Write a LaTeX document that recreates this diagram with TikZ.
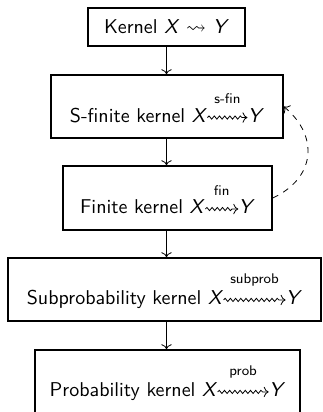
\documentclass[tikz,border=0pt]{standalone}
\usepackage{amsmath}
\usepackage{amssymb}
\usepackage{fontspec}
\usepackage{tikz}
\usetikzlibrary{positioning,arrows.meta,calc,decorations.pathmorphing}

% sans italic letters for the spaces
\newcommand{\spc}[1]{\textit{#1}}
% squiggly kernel arrow with a small label on top: label, length
\newcommand{\kerarrow}[2]{%
  \tikz[baseline=-0.55ex]\draw[kerline] (0pt,0pt) -- node[kerlabel] {#1} (#2,0pt);}

\tikzset{
  kerline/.style={line width=0.4pt,solid,->,decorate,
    decoration={snake,amplitude=0.8pt,segment length=2.6pt,post length=2.2pt}},
  kerlabel/.style={draw=none,minimum width=0pt,minimum height=0pt,above,
    font=\scriptsize\sffamily,inner sep=2pt,yshift=4.5pt},
  kbox/.style={draw,thick,minimum height=31.5pt,inner sep=4pt,font=\sffamily}
}

\begin{document}
\begin{tikzpicture}[x=0.5pt,y=0.5pt]
  \useasboundingbox (0,0) rectangle (322,-412);
  % the five kinds of kernel, top to bottom
  \node[kbox,minimum width=78.5pt,minimum height=19pt] (ker) at (166.5,-27)
    {Kernel \spc{X} $\rightsquigarrow$ \spc{Y}};
  \node[kbox,minimum width=116pt] (sfin) at (167,-106.5)
    {S-finite kernel \spc{X}\kerarrow{s-fin}{20pt}\spc{Y}};
  \node[kbox,minimum width=104.5pt,minimum height=32pt] (fin) at (167.5,-198)
    {Finite kernel \spc{X}\kerarrow{fin}{16.5pt}\spc{Y}};
  \node[kbox,minimum width=156.5pt] (sub) at (164.5,-289.5)
    {Subprobability kernel \spc{X}\kerarrow{subprob}{31pt}\spc{Y}};
  \node[kbox,minimum width=132.5pt] (prob) at (167.5,-381.5)
    {Probability kernel \spc{X}\kerarrow{prob}{25.5pt}\spc{Y}};
  % inclusions
  \draw[->] (ker) -- (ker |- sfin.north);
  \draw[->] (sfin.south -| ker) -- (ker |- fin.north);
  \draw[->] (fin.south -| ker) -- (ker |- sub.north);
  \draw[->] (sub.south -| ker) -- (ker |- prob.north);
  % finite kernels are s-finite
  \draw[->,dashed] (fin.east) to[out=25,in=-40,looseness=1.3] (sfin.east);
\end{tikzpicture}
\end{document}
